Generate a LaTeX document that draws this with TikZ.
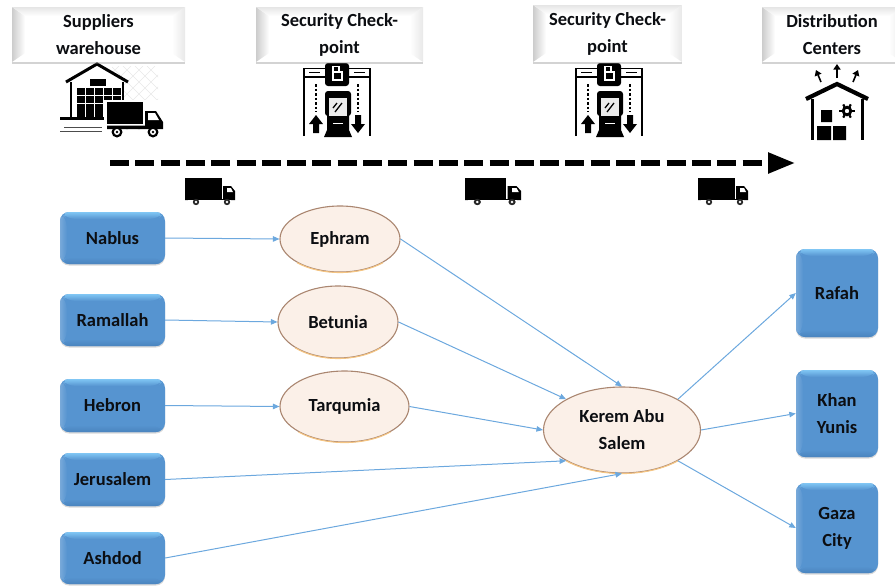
\documentclass[tikz,border=0pt]{standalone}
\usepackage{fontspec}
\setmainfont{Carlito}
\usetikzlibrary{arrows.meta,shapes.geometric,shadows,calc}
\definecolor{blueface}{RGB}{86,148,208}
\definecolor{bluelight}{RGB}{128,198,244}
\definecolor{bluedark}{RGB}{74,132,190}
\definecolor{linkblue}{RGB}{108,168,222}
\definecolor{eggfill}{RGB}{251,240,232}
\definecolor{eggline}{RGB}{170,134,112}
\definecolor{egglow}{RGB}{244,196,130}
\definecolor{inkblack}{RGB}{12,14,18}
\tikzset{
  lbl/.style={font=\bfseries\fontsize{18.5}{27}\selectfont,text=inkblack,align=center,inner sep=0pt},
  headbox/.style={lbl,rectangle,fill=white,
    drop shadow={opacity=.35,shadow xshift=0pt,shadow yshift=-1.5pt},
    path picture={
      \coordinate (nw) at (path picture bounding box.north west);
      \coordinate (ne) at (path picture bounding box.north east);
      \coordinate (sw) at (path picture bounding box.south west);
      \coordinate (se) at (path picture bounding box.south east);
      \shade[left color=black!20,right color=white] (nw) -- (sw) -- ($(sw)+(13,-9)$) -- ($(nw)+(13,9)$) -- cycle;
      \shade[left color=white,right color=black!9] (ne) -- (se) -- ($(se)+(-13,-9)$) -- ($(ne)+(-13,9)$) -- cycle;
      \shade[top color=black!10,bottom color=white] (nw) -- (ne) -- ($(ne)+(-13,9)$) -- ($(nw)+(13,9)$) -- cycle;
    }},
  bluebox/.style={lbl,rectangle,rounded corners=9pt,fill=blueface,
    drop shadow={opacity=.3,shadow xshift=0pt,shadow yshift=-1.5pt},
    path picture={
      \coordinate (nw) at (path picture bounding box.north west);
      \coordinate (ne) at (path picture bounding box.north east);
      \coordinate (sw) at (path picture bounding box.south west);
      \coordinate (se) at (path picture bounding box.south east);
      \shade[top color=bluelight,bottom color=blueface] (nw) -- (ne) -- ($(ne)+(-7,7)$) -- ($(nw)+(7,7)$) -- cycle;
      \shade[top color=blueface,bottom color=bluedark] (sw) -- (se) -- ($(se)+(-7,-7)$) -- ($(sw)+(7,-7)$) -- cycle;
      \shade[left color=blueface!80!white,right color=blueface] (nw) -- (sw) -- ($(sw)+(7,-7)$) -- ($(nw)+(7,7)$) -- cycle;
    }},
  egg/.style={lbl,ellipse,fill=eggfill,draw=eggline,line width=1.1pt,inner sep=0pt},
  link/.style={draw=linkblue,line width=1pt,-{Triangle[length=6.5pt,width=5.5pt]}},
  bigdash/.style={line width=5.5pt,black,dash pattern=on 19pt off 6.3pt,-{Triangle[length=27pt,width=20pt]}},
  pics/truckicon/.style={code={
    \fill[black] (0,0) rectangle (37,21);
    \fill[black] (38,8) -- (46,8) -- (50,13) -- (50,22) -- (0,22) -- (0,21) -- (38,21) -- cycle;
    \fill[white] (42,10) -- (46,10) -- (48,14) -- (42,14) -- cycle;
    \draw[white,line width=.7pt] (3,22.5) -- (46,22.5);
    \fill[black!85] (11,24) circle (3.2) (42,24) circle (3.2);
    \fill[white] (11,24) circle (1.3) (42,24) circle (1.3);
  }},
  pics/gateicon/.style={code={
    \draw[black,line width=1.3pt] (0,70) -- (0,2.5) -- (66,2.5) -- (66,70);
    \draw[black,line width=1.3pt] (0,11) -- (66,11);
    \draw[black,line width=1.5pt] (5,6.5) -- (16,6.5) (50,6.5) -- (61,6.5);
    \fill[black,rounded corners=3pt] (21,-3) rectangle (45,20);
    \draw[white,line width=1.5pt] (29,5) -- (29,0.5) -- (35,0.5) -- (35,5);
    \draw[white,line width=1.6pt] (29,6) rectangle (38,14);
    \fill[black,rounded corners=3pt] (21,25) rectangle (47,50);
    \fill[black] (20,71) -- (23,64) -- (23,40) -- (45,40) -- (45,64) -- (48,71) -- cycle;
    \fill[white!92!black] (25,32) rectangle (43,50);
    \draw[black,line width=1.3pt] (29,42) -- (33,37) (31,46) -- (38,37);
    \draw[white,line width=1.3pt] (29,57.5) -- (39,57.5);
    \draw[black,line width=1.4pt,dash pattern=on 2.5pt off 2pt] (12,18) -- (12,46) (54,18) -- (54,46);
    \fill[black] (12,49) -- (19,58) -- (15,58) -- (15,67) -- (9,67) -- (9,58) -- (5,58) -- cycle;
    \fill[black] (54,67) -- (61,58) -- (57,58) -- (57,49) -- (51,49) -- (51,58) -- (47,58) -- cycle;
  }},
  pics/whouseicon/.style={code={
    \begin{scope}
      \clip (112,66) rectangle (158,132);
      \draw[black!9,line width=.6pt] \foreach \k in {-60,-48,...,84} {(75+\k,66) -- (75+\k+64,130) (155-\k,66) -- (155-\k-64,130)};
    \end{scope}
    \fill[white] (72,82) -- (97,68) -- (122,82) -- (122,118) -- (72,118) -- cycle;
    \draw[black,line width=3pt,line join=miter] (66,82) -- (97,64) -- (128,82);
    \draw[black,line width=2pt] (71,82) -- (71,118) (123,82) -- (123,105);
    \fill[black] (60,116.5) rectangle (108,119.5);
    \foreach \cx/\cy in {90/79,98/79,77/88,86/88,95/88,104/88,113/88,77/96,86/96,95/96,104/96,113/96,77/104,86/104,95/104,104/104,77/111,86/111,95/111,104/111}
      {\fill[black] (\cx,\cy) rectangle ++(7.6,6.9);}
    \fill[white] (104,100) rectangle (165,128);
    \fill[black] (106.5,102) rectangle (143,124);
    \fill[black] (145,111) -- (156,111) -- (163,122) -- (163,129) -- (107,129) -- (107,125.5) -- (145,125.5) -- cycle;
    \fill[white] (148,113) -- (155,113) -- (159,120) -- (148,120) -- cycle;
    \fill[black] (117,132) circle (5.5) (153,132) circle (5.5);
    \fill[white] (117,132) circle (3);
    \fill[white] (153,132) circle (3);
    \fill[black] (117,132) circle (1.4) (153,132) circle (1.4);
    \draw[black!70,line width=.9pt] (64,127) -- (102,127) (60,131) -- (102,131);
  }},
  pics/depoticon/.style={code={
    \draw[black,line width=4.2pt,line join=miter] (806,99) -- (837,84) -- (868,99);
    \draw[black,line width=3pt] (812,99) -- (812,140) (862,99) -- (862,140);
    \fill[black] (821,110) rectangle (832,122) (817,126) rectangle (831,140) (833,126) rectangle (846,140);
    \draw[black,line width=2.8pt] (847,111) circle (3.8);
    \foreach \a in {0,60,...,300} {\draw[black,line width=2.2pt] (847,111) ++(\a:4.8) -- ++(\a:2.8);}
    \draw[black,line width=1.6pt,-{Triangle[length=5.5pt,width=7pt]}] (821,82) -- (816,70);
    \draw[black,line width=1.6pt,-{Triangle[length=5.5pt,width=7pt]}] (837,78) -- (837,64);
    \draw[black,line width=1.6pt,-{Triangle[length=5.5pt,width=7pt]}] (853,82) -- (858,70);
  }}
}
\begin{document}
\begin{tikzpicture}[x=1pt,y=-1pt]
\useasboundingbox (0,0) rectangle (895,587);

\pic at (0,0) {whouseicon};
\pic at (304,66) {gateicon};
\pic at (576,66) {gateicon};
\pic at (0,0) {depoticon};

\node[headbox,minimum width=173pt,minimum height=55pt] (sup) at (98.5,34.5) {Suppliers\\warehouse};
\node[headbox,minimum width=167pt,minimum height=55pt] (chk1) at (339.5,34.5) {Security Check-\\point};
\node[headbox,minimum width=149pt,minimum height=57pt] (chk2) at (607.5,33.5) {Security Check-\\point};
\node[headbox,minimum width=140pt,minimum height=55pt] (dist) at (832,34.5) {Distribution\\Centers};

\coordinate (flowA) at (110,163);
\coordinate (flowB) at (795,163);
\draw[bigdash] (flowA) -- (flowB);

\pic at (185,178) {truckicon};
\pic[xscale=1.12] at (465,178) {truckicon};
\pic at (698,178) {truckicon};

\node[bluebox,minimum width=105pt,minimum height=52pt] (nablus) at (112.5,238) {Nablus};
\node[bluebox,minimum width=105pt,minimum height=52pt] (ramallah) at (112.5,320) {Ramallah};
\node[bluebox,minimum width=105pt,minimum height=53pt] (hebron) at (112.5,405.5) {Hebron};
\node[bluebox,minimum width=105pt,minimum height=53pt] (jerusalem) at (112.5,479.5) {Jerusalem};
\node[bluebox,minimum width=105pt,minimum height=52pt] (ashdod) at (112.5,558) {Ashdod};

\node[bluebox,minimum width=82pt,minimum height=88pt] (rafah) at (837,293) {Rafah};
\node[bluebox,minimum width=82pt,minimum height=87pt] (khan) at (837,413.5) {Khan\\Yunis};
\node[bluebox,minimum width=82pt,minimum height=90pt] (gaza) at (837,528) {Gaza\\City};

\node[egg,minimum width=120pt,minimum height=66pt] (ephram) at (340,239) {Ephram};
\node[egg,minimum width=120pt,minimum height=72pt] (betunia) at (338,322) {Betunia};
\node[egg,minimum width=129pt,minimum height=71pt] (tarqumia) at (344.5,406.5) {Tarqumia};
\node[egg,minimum width=157pt,minimum height=86pt] (kerem) at (622,430) {Kerem Abu\\Salem};

\foreach \n in {ephram,betunia,tarqumia,kerem} {
  \draw[egglow,line width=1.1pt] (\n.south west)
    .. controls ($(\n.south west)!.276!(\n.south east)+.39*(\n.south)-.39*(\n.center)$)
    and ($(\n.south west)!.724!(\n.south east)+.39*(\n.south)-.39*(\n.center)$)
    .. (\n.south east);
}

\draw[link] (nablus.east) -- (ephram.west);
\draw[link] (ramallah.east) -- (betunia.west);
\draw[link] (hebron.east) -- (tarqumia.west);
\draw[link] (jerusalem.east) -- (kerem.south west);
\draw[link] (ashdod.east) -- (kerem.south);
\draw[link] (ephram.east) -- (kerem.north);
\draw[link] (betunia.east) -- (kerem.north west);
\draw[link] (tarqumia.east) -- (kerem.west);
\draw[link] (kerem.north east) -- (rafah.west);
\draw[link] (kerem.east) -- (khan.west);
\draw[link] (kerem.south east) -- (gaza.west);
\end{tikzpicture}
\end{document}
